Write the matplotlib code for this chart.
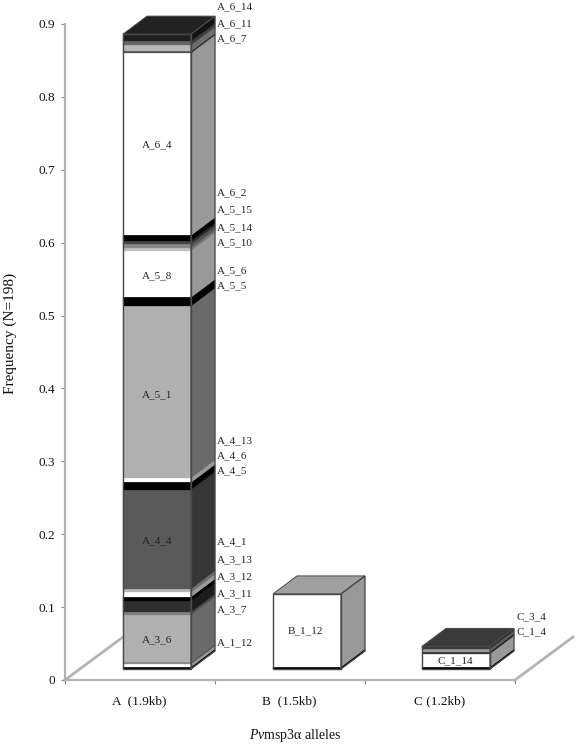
import matplotlib
matplotlib.use("Agg")
import matplotlib.pyplot as plt
from matplotlib.patches import Polygon
from matplotlib.colors import to_rgb

plt.rcParams['font.family'] = ['Liberation Serif', 'DejaVu Serif']
plt.rcParams['mathtext.fontset'] = 'custom'
plt.rcParams['mathtext.rm'] = 'Liberation Serif'
plt.rcParams['mathtext.it'] = 'Liberation Serif:italic'

# ---- data ----
categories = ['A  (1.9kb)', 'B  (1.5kb)', 'C (1.2kb)']
yticks = [0, 0.1, 0.2, 0.3, 0.4, 0.5, 0.6, 0.7, 0.8, 0.9]
ytick_labels = ['0', '0.1', '0.2', '0.3', '0.4', '0.5', '0.6', '0.7', '0.8', '0.9']

a_values = [.003, .004, .003, .064, .004, .015, .006, .006, .005, .136, .010, .006,
            .236, .012, .064, .004, .005, .004, .008, .250, .003, .008, .005, .010]
a_colors = ['#000000', '#ffffff', '#888888', '#b0b0b0', '#808080', '#2e2e2e', '#000000',
            '#ffffff', '#b5b5b5', '#5a5a5a', '#000000', '#ffffff', '#b0b0b0', '#000000',
            '#ffffff', '#c0c0c0', '#888888', '#444444', '#000000', '#ffffff', '#555555',
            '#b8b8b8', '#666666', '#1e1e1e']
b_values = [.003, .100]
b_colors = ['#000000', '#ffffff']
c_values = [.003, .018, .003, .004, .003]
c_colors = ['#000000', '#ffffff', '#333333', '#999999', '#3a3a3a']

top_colors = ['#222222', '#a0a0a0', '#3a3a3a']

inner_labels = ['A_6_4', 'A_5_8', 'A_5_1', 'A_4_4', 'A_3_6', 'B_1_12', 'C_1_14']
inner_x = [0.613, 0.613, 0.613, 0.613, 0.613, 1.60, 2.60]
inner_y = [0.734, 0.555, 0.392, 0.191, 0.055, 0.067, 0.026]

a_side_labels = ['A_6_14', 'A_6_11', 'A_6_7', 'A_6_2', 'A_5_15', 'A_5_14', 'A_5_10', 'A_5_6', 'A_5_5',
                 'A_4_13', 'A_4_6', 'A_4_5', 'A_4_1', 'A_3_13', 'A_3_12', 'A_3_11', 'A_3_7', 'A_1_12']
a_side_y = [.923, .901, .880, .668, .645, .621, .600, .562, .541,
            .328, .307, .287, .189, .165, .141, .118, .096, .051]
c_side_labels = ['C_3_4', 'C_1_4']
c_side_y = [.087, .066]

# ---- layout ----
W, H = 578, 750
fig = plt.figure(figsize=(W / 100, H / 100), dpi=100)
ax = fig.add_axes([65 / W, 1 - 680 / H, 450 / W, 656 / H])
ax.set_xlim(0, 3)
ax.set_ylim(0, 0.9)
ax.patch.set_visible(False)

PX = 3 / 450          # data units of x per pixel
PY = 0.9 / 656        # data units of y per pixel
GREY = '#b4b4b4'
EDGE = '#484848'


def shade(c, f=0.6):
    return tuple(v * f for v in to_rgb(c))


def bar3d(center, values, colors, top):
    x0 = center - 34 * PX
    x1 = center + 34 * PX
    dx, dy = 24 * PX, 18 * PY
    y = 11 * PY
    for v, c in zip(values, colors):
        ax.add_patch(Polygon([(x1, y), (x1 + dx, y + dy), (x1 + dx, y + v + dy), (x1, y + v)],
                             fc=shade(c), ec=shade(c), lw=0.3, zorder=3, clip_on=False))
        ax.add_patch(Polygon([(x0, y), (x1, y), (x1, y + v), (x0, y + v)],
                             fc=c, ec=c, lw=0.2, zorder=3, clip_on=False))
        y += v
    base = 11 * PY
    ax.add_patch(Polygon([(x0, y), (x1, y), (x1 + dx, y + dy), (x0 + dx, y + dy)],
                         fc=top, ec=EDGE, lw=0.7, zorder=4, clip_on=False))
    ax.add_patch(Polygon([(x0, base), (x1, base), (x1, y), (x0, y)],
                         fc='none', ec=EDGE, lw=1.0, zorder=5, clip_on=False))
    ax.add_patch(Polygon([(x1, base), (x1 + dx, base + dy), (x1 + dx, y + dy), (x1, y)],
                         fc='none', ec=EDGE, lw=0.9, zorder=5, clip_on=False))


# floor lines
ax.plot([0, 58 * PX], [0, 43 * PY], color=GREY, lw=2, zorder=1, clip_on=False)
ax.plot([3, 3 + 58 * PX], [0, 43 * PY], color=GREY, lw=2, zorder=1, clip_on=False)

centers = [0.5 + 17 * PX, 1.5 + 17 * PX, 2.5 + 16 * PX]
bar3d(centers[0], a_values, a_colors, top_colors[0])
bar3d(centers[1], b_values, b_colors, top_colors[1])
bar3d(centers[2], c_values, c_colors, top_colors[2])

for s, x, y in zip(inner_labels, inner_x, inner_y):
    ax.text(x, y, s, ha='center', va='center', fontsize=8, color='#222222', zorder=6)
for s, y in zip(a_side_labels, a_side_y):
    ax.text(1.015, y, s, ha='left', va='center', fontsize=8, color='#222222', clip_on=False)
for s, y in zip(c_side_labels, c_side_y):
    ax.text(3.01, y, s, ha='left', va='center', fontsize=8, color='#222222', clip_on=False)

# axes
for s in ('top', 'right'):
    ax.spines[s].set_visible(False)
for s in ('left', 'bottom'):
    ax.spines[s].set_color(GREY)
    ax.spines[s].set_linewidth(1.6)
ax.set_yticks(yticks)
ax.set_yticklabels(ytick_labels, fontsize=9.5, color='#111111')
ax.set_xticks([0, 1, 2, 3])
ax.set_xticklabels([])
ax.tick_params(axis='both', length=3, width=0.8, color='#888888', pad=4)

for c, s in zip([0.5, 1.5, 2.5], categories):
    ax.text(c - 0.005, -21 * PY, s, ha='center', va='center', fontsize=9.5, color='#111111')

fig.text(10 / W, 1 - 333 / H, 'Frequency (N=198)', rotation=90, ha='center', va='center',
         fontsize=11, color='#111111')
fig.text(295 / W, 1 - 736 / H, r'$\mathit{Pv}$msp3α alleles', ha='center', va='center',
         fontsize=10, color='#111111')

fig.savefig('out.png', dpi=100)
